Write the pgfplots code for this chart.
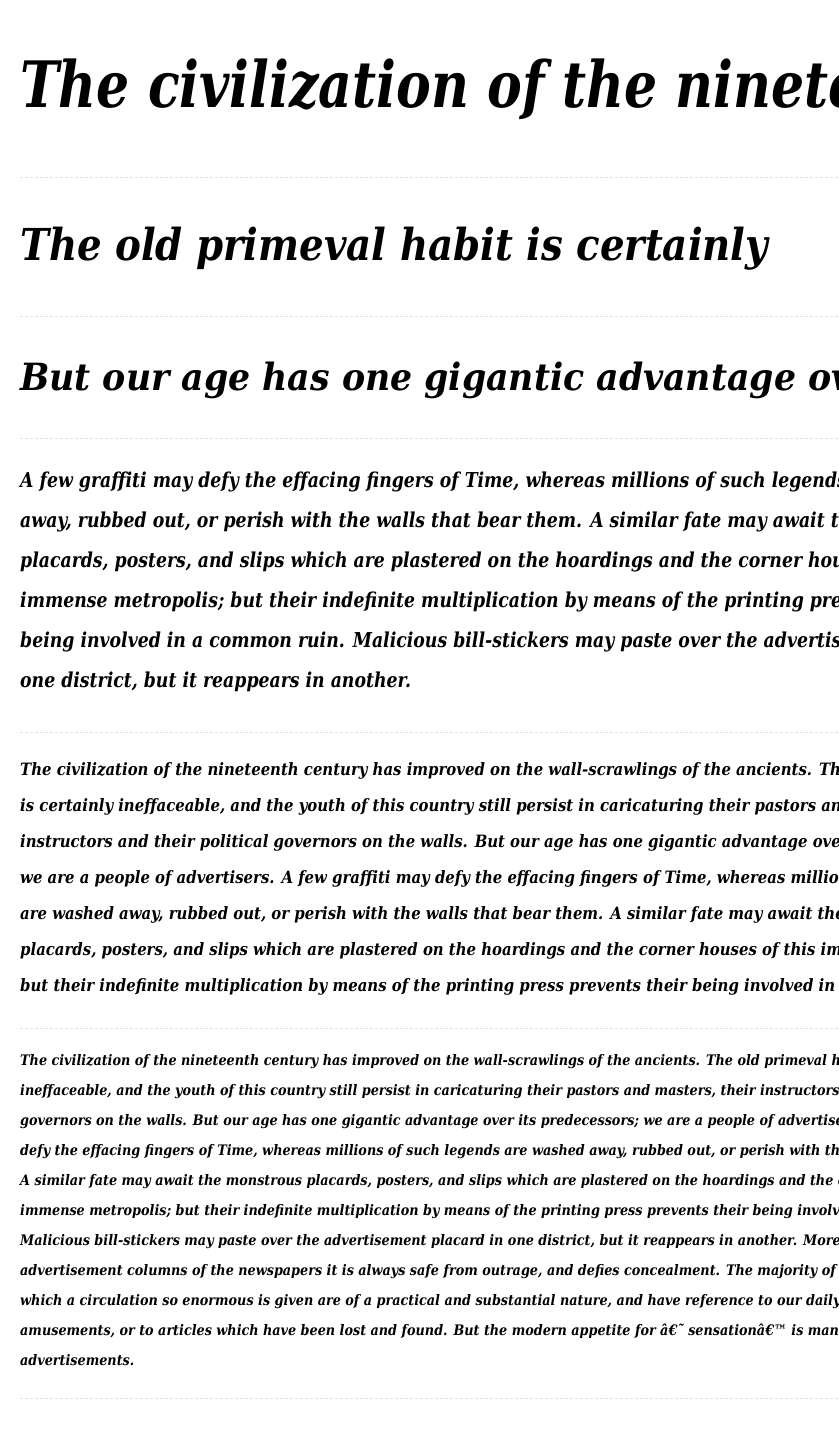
\documentclass[border=0pt]{standalone}
\usepackage{fontspec}
\setmainfont{DejaVu Serif}
\usepackage{graphicx}
\usepackage{pgfplots}
\pgfplotsset{compat=1.18}
\definecolor{sep}{HTML}{E2E2E2}
\newlength\tmpw
\newcommand\calcscale[4]{%
  \settowidth\tmpw{\fontsize{#2}{#2}\selectfont\bfseries\itshape #3}%
  \pgfmathsetmacro#1{#4/\tmpw}}
\newcommand\tline[4]{%
  \node[anchor=base west, inner sep=0pt, text=black] at (axis cs:20,#1)
    {\scalebox{#2}[1]{\fontsize{#3}{#3}\selectfont\bfseries\itshape #4}};}
\begin{document}
\calcscale{\sA}{64}{The civilization}{449}%
\calcscale{\sB}{44}{The old primeval habit is certainly}{748}%
\calcscale{\sC}{37.5}{But our age has one gigantic advantage}{776}%
\calcscale{\sD}{20.5}{one district, but it reappears in another.}{391}%
\calcscale{\sE}{17}{The civilization of the nineteenth century has improved on the wall-scrawlings of the ancients.}{792}%
\calcscale{\sF}{14.5}{The civilization of the nineteenth century has improved on the wall-scrawlings of the ancients.}{680}%
\begin{tikzpicture}
\path[use as bounding box] (0,0) rectangle (838pt,1439pt);
\clip (0,0) rectangle (838pt,1439pt);
\begin{axis}[
  at={(0,0)}, anchor=south west,
  scale only axis, width=838pt, height=1439pt,
  xmin=0, xmax=838, ymin=0, ymax=1439, y dir=reverse,
  axis lines=none, ticks=none, clip=false]
% separator lines
\addplot[sep, line width=1pt, dash pattern=on 3pt off 2pt] coordinates {(20,178) (838,178)};
\addplot[sep, line width=1pt, dash pattern=on 3pt off 2pt] coordinates {(20,316) (838,316)};
\addplot[sep, line width=1pt, dash pattern=on 3pt off 2pt] coordinates {(20,438) (838,438)};
\addplot[sep, line width=1pt, dash pattern=on 3pt off 2pt] coordinates {(20,732) (838,732)};
\addplot[sep, line width=1pt, dash pattern=on 3pt off 2pt] coordinates {(20,1028) (838,1028)};
\addplot[sep, line width=1pt, dash pattern=on 3pt off 2pt] coordinates {(20,1398) (838,1398)};
% headings
\tline{108}{\sA}{64}{The civilization of the nineteenth century}
\tline{260}{\sB}{44}{The old primeval habit is certainly}
\tline{390}{\sC}{37.5}{But our age has one gigantic advantage over its predecessors}
% paragraph 1
\tline{487}{\sD}{20.5}{A few graffiti may defy the effacing fingers of Time, whereas millions of such legends are washed}
\tline{527}{\sD}{20.5}{away, rubbed out, or perish with the walls that bear them. A similar fate may await the monstrous}
\tline{567}{\sD}{20.5}{placards, posters, and slips which are plastered on the hoardings and the corner houses of this}
\tline{607}{\sD}{20.5}{immense metropolis; but their indefinite multiplication by means of the printing press prevents their}
\tline{647}{\sD}{20.5}{being involved in a common ruin. Malicious bill-stickers may paste over the advertisement placard in}
\tline{687}{\sD}{20.5}{one district, but it reappears in another.}
% paragraph 2
\tline{775}{\sE}{17}{The civilization of the nineteenth century has improved on the wall-scrawlings of the ancients. The old primeval habit}
\tline{811}{\sE}{17}{is certainly ineffaceable, and the youth of this country still persist in caricaturing their pastors and masters, their}
\tline{847}{\sE}{17}{instructors and their political governors on the walls. But our age has one gigantic advantage over its predecessors;}
\tline{883}{\sE}{17}{we are a people of advertisers. A few graffiti may defy the effacing fingers of Time, whereas millions of such legends}
\tline{919}{\sE}{17}{are washed away, rubbed out, or perish with the walls that bear them. A similar fate may await the monstrous}
\tline{955}{\sE}{17}{placards, posters, and slips which are plastered on the hoardings and the corner houses of this immense metropolis;}
\tline{991}{\sE}{17}{but their indefinite multiplication by means of the printing press prevents their being involved in a common ruin.}
% paragraph 3
\tline{1065}{\sF}{14.5}{The civilization of the nineteenth century has improved on the wall-scrawlings of the ancients. The old primeval habit is certainly}
\tline{1095}{\sF}{14.5}{ineffaceable, and the youth of this country still persist in caricaturing their pastors and masters, their instructors and their political}
\tline{1125}{\sF}{14.5}{governors on the walls. But our age has one gigantic advantage over its predecessors; we are a people of advertisers. A few graffiti may}
\tline{1155}{\sF}{14.5}{defy the effacing fingers of Time, whereas millions of such legends are washed away, rubbed out, or perish with the walls that bear them.}
\tline{1185}{\sF}{14.5}{A similar fate may await the monstrous placards, posters, and slips which are plastered on the hoardings and the corner houses of this}
\tline{1215}{\sF}{14.5}{immense metropolis; but their indefinite multiplication by means of the printing press prevents their being involved in a common ruin.}
\tline{1245}{\sF}{14.5}{Malicious bill-stickers may paste over the advertisement placard in one district, but it reappears in another. Moreover, in the}
\tline{1275}{\sF}{14.5}{advertisement columns of the newspapers it is always safe from outrage, and defies concealment. The majority of the advertisements to}
\tline{1305}{\sF}{14.5}{which a circulation so enormous is given are of a practical and substantial nature, and have reference to our daily wants, our}
\tline{1335}{\sF}{14.5}{amusements, or to articles which have been lost and found. But the modern appetite for â€˜ sensationâ€™ is manifested in}
\tline{1365}{\sF}{14.5}{advertisements.}
\end{axis}
\end{tikzpicture}
\end{document}
